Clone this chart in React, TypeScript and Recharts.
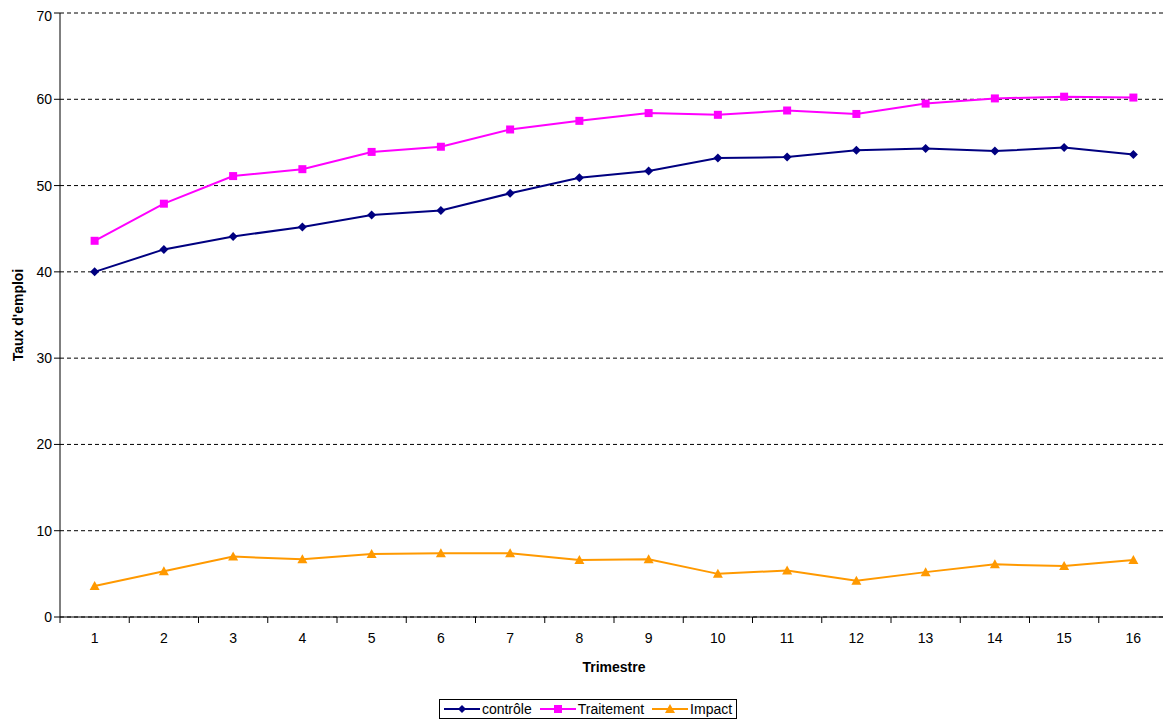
import React from 'react';
import { LineChart, Line, XAxis, YAxis, CartesianGrid, Legend } from 'recharts';

const trimestres = [1,2,3,4,5,6,7,8,9,10,11,12,13,14,15,16];
const controle = [40.0,42.6,44.1,45.2,46.6,47.1,49.1,50.9,51.7,53.2,53.3,54.1,54.3,54.0,54.4,53.6];
const traitement = [43.6,47.9,51.1,51.9,53.9,54.5,56.5,57.5,58.4,58.2,58.7,58.3,59.5,60.1,60.3,60.2];
const impact = [3.6,5.3,7.0,6.7,7.3,7.4,7.4,6.6,6.7,5.0,5.4,4.2,5.2,6.1,5.9,6.6];
const yTicks = [0,10,20,30,40,50,60,70];
const xTicks = [0.5,1,1.5,2,2.5,3,3.5,4,4.5,5,5.5,6,6.5,7,7.5,8,8.5,9,9.5,10,10.5,11,11.5,12,12.5,13,13.5,14,14.5,15,15.5,16,16.5];

const data = trimestres.map((t, i) => ({ t, controle: controle[i], traitement: traitement[i], impact: impact[i] }));

const XTick = (p: any) => {
  const { x, y, payload } = p;
  const v = payload.value;
  if (Number.isInteger(v)) {
    return <text x={x} y={y + 20} textAnchor="middle" fill="#000" fontSize={14}>{v}</text>;
  }
  return <line x1={x} x2={x} y1={y - 6} y2={y} stroke="#000" />;
};

const Tri = (p: any) => {
  const { cx, cy, fill } = p;
  if (cx == null) return null;
  return <polygon points={`${cx},${cy - 5} ${cx - 5},${cy + 4} ${cx + 5},${cy + 4}`} fill={fill} />;
};
const Sq = (p: any) => {
  const { cx, cy, fill } = p;
  if (cx == null) return null;
  return <rect x={cx - 4} y={cy - 4} width={8} height={8} fill={fill} />;
};
const Dia = (p: any) => {
  const { cx, cy, fill } = p;
  if (cx == null) return null;
  return <polygon points={`${cx},${cy - 4.5} ${cx + 4.5},${cy} ${cx},${cy + 4.5} ${cx - 4.5},${cy}`} fill={fill} />;
};

export default function App() {
  return (
    <div style={{ fontFamily: 'Arial, "Liberation Sans", sans-serif' }}>
      <LineChart width={1163} height={712} data={data} margin={{ top: 5, right: 3, left: 0, bottom: 21 }}>
        <CartesianGrid horizontal vertical={false} stroke="#000" strokeDasharray="4 3" />
        <XAxis type="number" dataKey="t" domain={[0.5, 16.5]} ticks={xTicks} interval={0} tickLine={false} tickSize={6} tickMargin={0} stroke="#000" tick={<XTick />} height={62}
          label={{ value: 'Trimestre', position: 'insideBottom', offset: 7, fill: '#000', fontSize: 14, fontWeight: 'bold' }} />
        <YAxis domain={[0, 70]} ticks={yTicks} stroke="#000" tick={{ fill: '#000', fontSize: 14 }} width={52}
          label={{ value: "Taux d'emploi", angle: -90, position: 'insideLeft', offset: 10, fill: '#000', fontSize: 14, fontWeight: 'bold', style: { textAnchor: 'middle' } }} />
        <Legend verticalAlign="bottom" align="center" wrapperStyle={{ bottom: 1 }}
          content={() => (
            <div style={{ display: 'flex', justifyContent: 'center' }}>
              <div style={{ border: '1px solid #000', padding: '1px 4px', display: 'flex', gap: 8, fontSize: 14, color: '#000' }}>
                {[['contrôle', '#000080', 'd'], ['Traitement', '#FF00FF', 's'], ['Impact', '#FF9900', 't']].map(([n, c, m]) => (
                  <span key={n} style={{ display: 'flex', alignItems: 'center', gap: 2 }}>
                    <svg width={36} height={10}>
                      <line x1={0} y1={5} x2={36} y2={5} stroke={c} strokeWidth={2} />
                      {m === 'd' && <polygon points="18,1 22,5 18,9 14,5" fill={c} />}
                      {m === 's' && <rect x={14} y={1} width={8} height={8} fill={c} />}
                      {m === 't' && <polygon points="18,0 13,9 23,9" fill={c} />}
                    </svg>
                    {n}
                  </span>
                ))}
              </div>
            </div>
          )} />
        <Line dataKey="controle" name="contrôle" stroke="#000080" strokeWidth={2} dot={<Dia />} fill="#000080" isAnimationActive={false} />
        <Line dataKey="traitement" name="Traitement" stroke="#FF00FF" strokeWidth={2} dot={<Sq />} fill="#FF00FF" isAnimationActive={false} />
        <Line dataKey="impact" name="Impact" stroke="#FF9900" strokeWidth={2} dot={<Tri />} fill="#FF9900" isAnimationActive={false} />
      </LineChart>
    </div>
  );
}
